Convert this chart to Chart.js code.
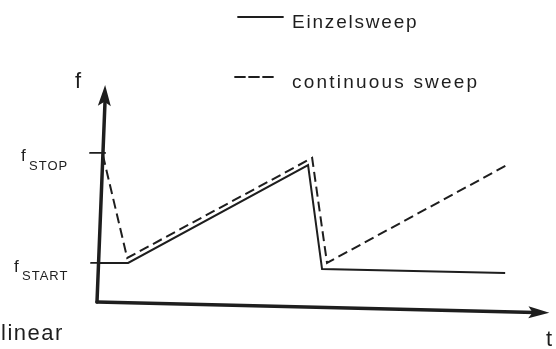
<!DOCTYPE html>
<html>
<head>
<meta charset="utf-8">
<script src="https://cdn.jsdelivr.net/npm/chart.js@4"></script>
<style>
html, body { margin: 0; padding: 0; background: #fff; }
#wrap { position: relative; width: 556px; height: 349px; }
</style>
</head>
<body>
<div id="wrap"><canvas id="sweepChart"></canvas></div>
<script>
// Sweep-Diagramm: Frequenz f über Zeit t (willkürliche Einheiten 0..10)
const fStart = 1.8;
const fStop = 6.87;

// Einzelsweep (durchgezogen)
const singleT = [0.05, 0.69, 4.68, 4.99, 9.05];
const singleF = [1.80, 1.80, 6.31, 1.52, 1.34];

// continuous sweep (gestrichelt)
const contT = [0.13, 0.67, 4.77, 5.10, 9.09];
const contF = [6.77, 2.03, 6.64, 1.80, 6.31];

const legendLabels = ['Einzelsweep', 'continuous sweep'];
const axisLabels = { y: 'f', x: 't', mode: 'linear' };

const INK = '#1e1e1e';

function toPoints(ts, fs) {
    return ts.map((t, i) => ({ x: t, y: fs[i] }));
}

function arrowHead(ctx, tipX, tipY, angle, len, half) {
    ctx.save();
    ctx.translate(tipX, tipY);
    ctx.rotate(angle);
    ctx.beginPath();
    ctx.moveTo(0, 0);
    ctx.lineTo(-len, -half);
    ctx.lineTo(-len * 0.8, 0);
    ctx.lineTo(-len, half);
    ctx.closePath();
    ctx.fill();
    ctx.restore();
}

// Achsen, Pfeile, Beschriftungen und Legende
const diagramPlugin = {
    id: 'diagram',
    afterDraw(chart) {
        const ctx = chart.ctx;
        const xs = chart.scales.x;
        const ys = chart.scales.y;
        ctx.save();
        ctx.strokeStyle = INK;
        ctx.fillStyle = INK;
        ctx.lineCap = 'round';

        // y-Achse (leicht schräg wie im Scan)
        const ox = xs.getPixelForValue(0), oy = ys.getPixelForValue(0);
        const yTipX = xs.getPixelForValue(0.18), yTipY = ys.getPixelForValue(10);
        ctx.lineWidth = 3.5;
        ctx.beginPath();
        ctx.moveTo(ox, oy);
        ctx.lineTo(yTipX, yTipY + 14);
        ctx.stroke();
        arrowHead(ctx, yTipX, yTipY, Math.atan2(yTipY - oy, yTipX - ox), 21, 6.5);

        // x-Achse
        const xTipX = xs.getPixelForValue(10.03), xTipY = ys.getPixelForValue(-0.5);
        ctx.beginPath();
        ctx.moveTo(ox, oy);
        ctx.lineTo(xTipX - 14, xTipY - 0.3);
        ctx.stroke();
        arrowHead(ctx, xTipX, xTipY, Math.atan2(xTipY - oy, xTipX - ox), 21, 6);

        // Markierungen fSTOP / fSTART
        ctx.lineWidth = 1.8;
        const yStop = ys.getPixelForValue(fStop);
        const yStartPx = ys.getPixelForValue(fStart);
        ctx.beginPath();
        ctx.moveTo(90, yStop); ctx.lineTo(xs.getPixelForValue(0.18), yStop);
        ctx.moveTo(91, yStartPx); ctx.lineTo(xs.getPixelForValue(0.1), yStartPx);
        ctx.stroke();

        ctx.textBaseline = 'alphabetic';
        ctx.font = '17px "Liberation Sans", Arial, sans-serif';
        ctx.fillText('f', 21, yStop + 8);
        ctx.fillText('f', 14, yStartPx + 9);
        ctx.font = '13px "Liberation Sans", Arial, sans-serif';
        if ('letterSpacing' in ctx) ctx.letterSpacing = '1px';
        ctx.fillText('STOP', 29, yStop + 17);
        ctx.fillText('START', 22, yStartPx + 17);

        // Achsenbeschriftungen
        ctx.font = '22px "Liberation Sans", Arial, sans-serif';
        if ('letterSpacing' in ctx) ctx.letterSpacing = '0px';
        ctx.fillText(axisLabels.y, 75, 88);
        ctx.fillText(axisLabels.x, 546, 346);
        if ('letterSpacing' in ctx) ctx.letterSpacing = '1.5px';
        ctx.fillText(axisLabels.mode, 1, 340);

        // Legende
        ctx.lineWidth = 1.8;
        ctx.setLineDash([]);
        ctx.beginPath();
        ctx.moveTo(238, 17); ctx.lineTo(283, 17);
        ctx.stroke();
        ctx.setLineDash([10, 4]);
        ctx.beginPath();
        ctx.moveTo(235, 77); ctx.lineTo(275, 77);
        ctx.stroke();
        ctx.setLineDash([]);

        ctx.font = '19px "Liberation Sans", Arial, sans-serif';
        if ('letterSpacing' in ctx) ctx.letterSpacing = '1.8px';
        ctx.fillText(legendLabels[0], 292, 28);
        if ('letterSpacing' in ctx) ctx.letterSpacing = '2.2px';
        ctx.fillText(legendLabels[1], 292, 88);
        ctx.restore();
    }
};

new Chart(document.getElementById('sweepChart').getContext('2d'), {
    type: 'line',
    data: {
        datasets: [{
            label: legendLabels[0],
            data: toPoints(singleT, singleF),
            borderColor: INK,
            borderWidth: 2,
            pointRadius: 0,
            tension: 0,
            fill: false
        }, {
            label: legendLabels[1],
            data: toPoints(contT, contF),
            borderColor: INK,
            borderWidth: 2,
            borderDash: [10, 5],
            pointRadius: 0,
            tension: 0,
            fill: false
        }]
    },
    options: {
        responsive: true,
        maintainAspectRatio: false,
        animation: false,
        devicePixelRatio: 1,
        layout: { padding: { left: 97, right: 8, top: 85, bottom: 47 } },
        scales: {
            x: { type: 'linear', min: 0, max: 10, display: false },
            y: { type: 'linear', min: 0, max: 10, display: false }
        },
        plugins: {
            legend: { display: false },
            tooltip: { enabled: false }
        }
    },
    plugins: [diagramPlugin]
});
</script>
</body>
</html>
